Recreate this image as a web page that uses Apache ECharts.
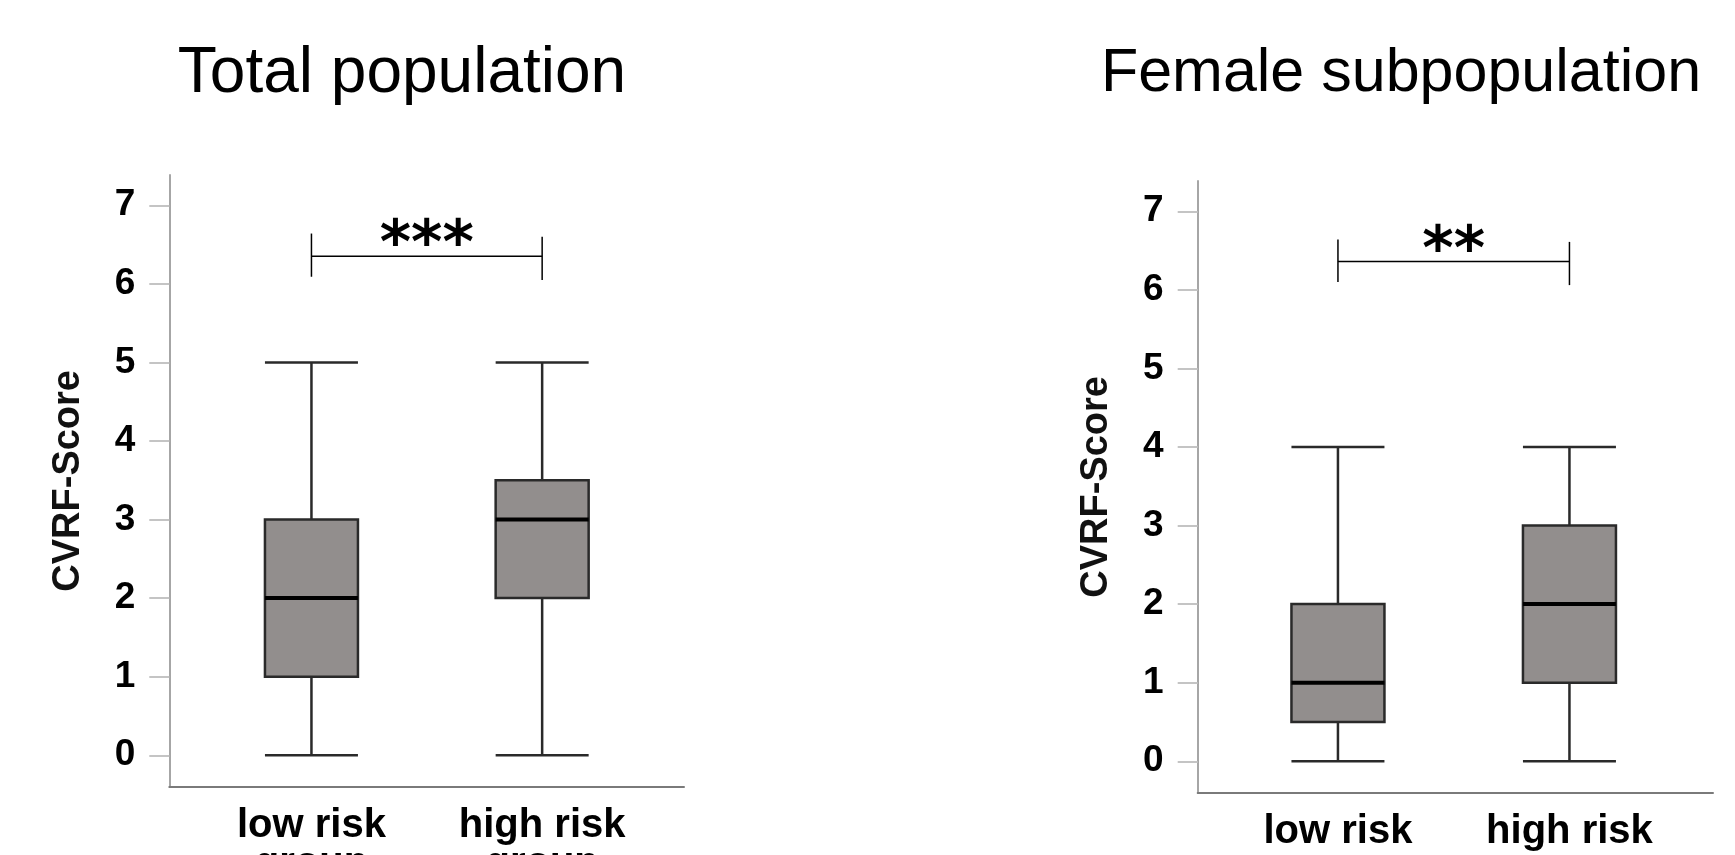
<!DOCTYPE html>
<html>
<head>
<meta charset="utf-8">
<style>
  html, body { margin: 0; padding: 0; background: #fff; }
  #main { width: 1735px; height: 855px; }
</style>
<script src="https://cdn.jsdelivr.net/npm/echarts@6/dist/echarts.min.js"></script>
</head>
<body>
<div id="main"></div>
<script>
// values
var groups = ['low risk\ngroup', 'high risk\ngroup'];
var yTicks = [0, 1, 2, 3, 4, 5, 6, 7];
var yRange = [-0.4, 7.385];

// [min, Q1, median, Q3, max]
var totalBox = [[0, 1, 2, 3, 5], [0, 2, 3, 3.5, 5]];
var femaleBox = [[0, 0.5, 1, 2, 4], [0, 1, 2, 3, 4]];

// bracket: [bar, left tick from, left tick to, right tick from, right tick to, stars level]
var totalBracket = [6.35, 6.09, 6.64, 6.05, 6.60, 6.67];
var femaleBracket = [6.36, 6.10, 6.64, 6.06, 6.61, 6.67];
var totalStars = '***';
var femaleStars = '**';

var panelTitles = ['Total population', 'Female subpopulation'];

var BOX_W = 93;
var LABEL_FONT = "'Liberation Sans', Arial, sans-serif";

// frame grid = axis lines, plot grid = where the boxes sit
var frames = [
    { left: 169.3, top: 175, width: 514.7, height: 611.7 },
    { left: 1197.7, top: 181, width: 515.3, height: 611.7 }
];
var plots = [
    { left: 196.1, top: 175, width: 461.4, height: 611.7 },
    { left: 1222.2, top: 181, width: 463, height: 611.7 }
];

var grids = [], xAxes = [], yAxes = [], series = [];

function addPanel(p, boxData, bracket, stars) {
    var fi = grids.length;
    grids.push(Object.assign({ containLabel: false, outerBoundsMode: 'none' }, frames[p]));
    var pi = grids.length;
    grids.push(Object.assign({ containLabel: false, outerBoundsMode: 'none' }, plots[p]));

    xAxes.push({
        gridIndex: fi, type: 'value', min: 0, max: 1,
        axisLine: { show: true, onZero: false, lineStyle: { color: '#7a7a7a', width: 2 } },
        axisTick: { show: false }, axisLabel: { show: false }, splitLine: { show: false }
    });
    yAxes.push({
        gridIndex: fi, type: 'value', min: yRange[0], max: yRange[1],
        axisLine: { show: true, onZero: false, lineStyle: { color: '#a6a6a6', width: 2 } },
        axisTick: { show: true, length: 20, customValues: yTicks, lineStyle: { color: '#c4c4c4', width: 2 } },
        axisLabel: { customValues: yTicks, margin: 34, color: '#000', fontWeight: 'bold', fontSize: 37, fontFamily: LABEL_FONT },
        splitLine: { show: false },
        name: 'CVRF-Score', nameLocation: 'middle', nameGap: 82,
        nameTextStyle: { color: '#111', fontWeight: 'bold', fontSize: 38, fontFamily: 'Liberation Sans' }
    });

    xAxes.push({
        gridIndex: pi, type: 'category', data: groups,
        axisLine: { show: false }, axisTick: { show: false }, splitLine: { show: false },
        axisLabel: { interval: 0, margin: 20, color: '#000', fontWeight: 'bold', fontSize: 40, lineHeight: 38, fontFamily: LABEL_FONT }
    });
    yAxes.push({ gridIndex: pi, type: 'value', min: yRange[0], max: yRange[1], show: false });

    series.push({
        type: 'boxplot', xAxisIndex: pi, yAxisIndex: pi,
        data: boxData,
        boxWidth: [BOX_W, BOX_W],
        itemStyle: { color: '#928e8d', borderColor: '#2a2a2a', borderWidth: 2.5 },
        emphasis: { disabled: true },
        silent: true
    });

    // thicker median line on top of the box
    series.push({
        type: 'custom', xAxisIndex: pi, yAxisIndex: pi, silent: true, z: 5,
        data: boxData.map(function (d, i) { return [i, d[2]]; }),
        renderItem: function (params, api) {
            var c = api.coord([api.value(0), api.value(1)]);
            return {
                type: 'line',
                shape: { x1: c[0] - BOX_W / 2, y1: c[1], x2: c[0] + BOX_W / 2, y2: c[1] },
                style: { stroke: '#000', lineWidth: 4 }
            };
        }
    });

    // significance bracket
    series.push({
        type: 'custom', xAxisIndex: pi, yAxisIndex: pi, silent: true, z: 6,
        data: [[0, 1]],
        renderItem: function (params, api) {
            var b = bracket;
            var hl = api.coord([0, b[0]]), hr = api.coord([1, b[0]]);
            var l0 = api.coord([0, b[1]]), l1 = api.coord([0, b[2]]);
            var r0 = api.coord([1, b[3]]), r1 = api.coord([1, b[4]]);
            var s = api.coord([0, b[5]]);
            var ln = { stroke: '#000', lineWidth: 1.5 };
            return {
                type: 'group',
                children: [
                    { type: 'line', shape: { x1: hl[0], y1: hl[1], x2: hr[0], y2: hr[1] }, style: ln },
                    { type: 'line', shape: { x1: l0[0], y1: l0[1], x2: l1[0], y2: l1[1] }, style: ln },
                    { type: 'line', shape: { x1: r0[0], y1: r0[1], x2: r1[0], y2: r1[1] }, style: ln },
                    {
                        type: 'text', x: (hl[0] + hr[0]) / 2, y: s[1] + 16,
                        style: {
                            text: stars, fill: '#000', fontSize: 60, fontWeight: 'bold', fontFamily: 'DejaVu Sans',
                            align: 'center', verticalAlign: 'middle'
                        }
                    }
                ]
            };
        }
    });
}

addPanel(0, totalBox, totalBracket, totalStars);
addPanel(1, femaleBox, femaleBracket, femaleStars);

var chart = echarts.init(document.getElementById('main'), null, { renderer: 'canvas' });
chart.setOption({
    animation: false,
    backgroundColor: '#fff',
    textStyle: { fontFamily: 'Liberation Sans' },
    grid: grids,
    xAxis: xAxes,
    yAxis: yAxes,
    series: series,
    graphic: [
        { type: 'text', x: 402, y: 74, style: { text: panelTitles[0], fill: '#000', fontSize: 64, fontFamily: 'Liberation Sans', align: 'center', verticalAlign: 'middle' } },
        { type: 'text', x: 1401, y: 74, style: { text: panelTitles[1], fill: '#000', fontSize: 61, fontFamily: 'Liberation Sans', align: 'center', verticalAlign: 'middle' } }
    ]
});
</script>
</body>
</html>
